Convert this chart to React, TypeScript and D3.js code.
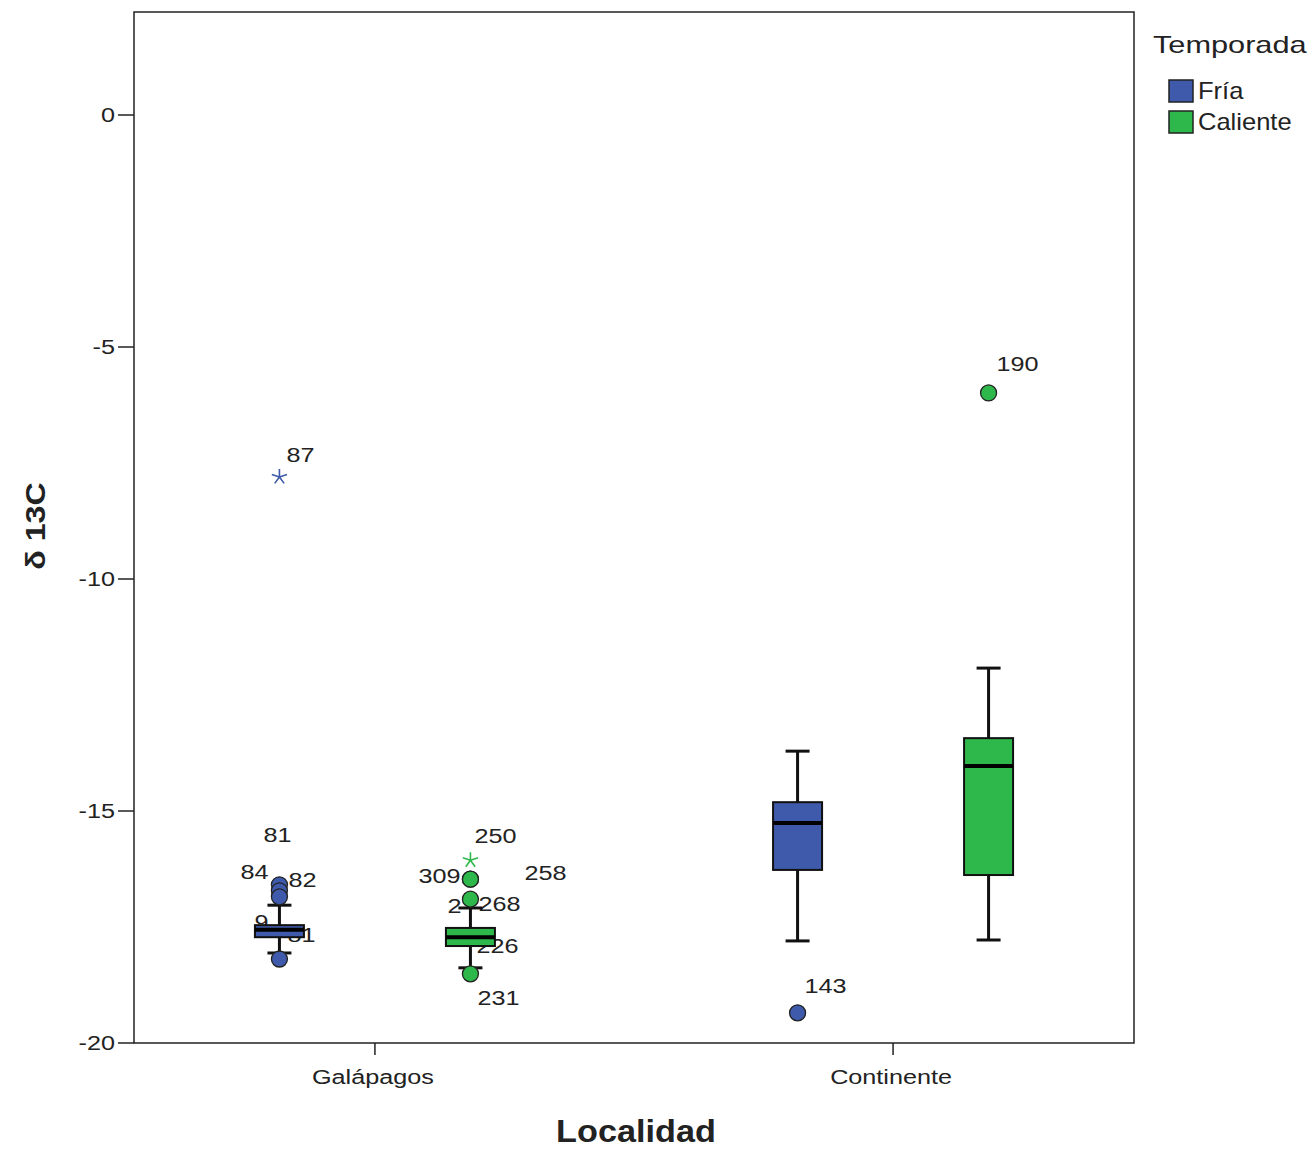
import React from "react";
import * as d3 from "d3";

// ---------- data ----------
const categories = ["Galápagos", "Continente"];
const seasons = ["Fría", "Caliente"];
const seasonColors = ["#3F5AAA", "#2EB84B"];
const yTicks = [0, -5, -10, -15, -20];

// box stats: [whiskerLow, q1, median, q3, whiskerHigh]
const galapagosFria = [-18.06, -17.72, -17.56, -17.46, -17.03];
const galapagosCaliente = [-18.38, -17.91, -17.72, -17.52, -17.09];
const continenteFria = [-17.8, -16.27, -15.26, -14.81, -13.71];
const continenteCaliente = [-17.78, -16.38, -14.03, -13.43, -11.92];

// outliers: [label, value, kind] kind: "o" circle, "*" extreme
const outGalFria: [string, number, string][] = [
  ["81", -16.59, "o"], ["84", -16.72, "o"], ["82", -16.85, "o"],
  ["", -18.19, "o"], ["87", -7.8, "*"],
];
const outGalCal: [string, number, string][] = [
  ["309", -16.47, "o"], ["258", -16.47, "o"], ["268", -16.9, "o"],
  ["231", -18.51, "o"], ["250", -16.06, "*"],
];
const outConFria: [string, number, string][] = [["143", -19.35, "o"]];
const outConCal: [string, number, string][] = [["190", -5.99, "o"]];

// extra partially hidden labels: [text, value]
const hiddenGalFria: [string, number][] = [["9", -17.56], ["81", -17.56]];
const hiddenGalCal: [string, number][] = [["2", -17.09], ["226", -17.72]];

const groups = [
  { cat: 0, s: 0, box: galapagosFria, outs: outGalFria, hidden: hiddenGalFria },
  { cat: 0, s: 1, box: galapagosCaliente, outs: outGalCal, hidden: hiddenGalCal },
  { cat: 1, s: 0, box: continenteFria, outs: outConFria, hidden: [] as [string, number][] },
  { cat: 1, s: 1, box: continenteCaliente, outs: outConCal, hidden: [] as [string, number][] },
];

// ---------- layout ----------
const W = 1315, H = 1150;
const L = 134, R = 1134, T = 12, B = 1043;
const font = "Arial, 'Liberation Sans', sans-serif";
const SX = 1.2; // horizontal stretch of the reference's text
// label offsets (px) relative to the point, keyed by group index + label
const labelOffsets: Record<string, [number, number]> = {
  "0-81": [-2, -50], "0-84": [-25, -19], "0-82": [23, -17], "0-87": [21, -22],
  "0-h9": [-18, -8], "0-h81": [22, 5],
  "1-309": [-31, -4], "1-258": [75, -7], "1-268": [29, 4], "1-231": [28, 24], "1-250": [25, -25],
  "1-h2": [-16, -2], "1-h226": [27, 8],
  "2-143": [28, -27],
  "3-190": [29, -29],
};

function Txt(props: {
  x: number; y: number; size: number; anchor?: string; sx?: number; bold?: boolean;
  dy?: string; children: React.ReactNode; rotate?: number;
}) {
  const { x, y, size, anchor = "start", sx = SX, bold, dy, children, rotate } = props;
  return (
    <text
      transform={`translate(${x},${y})${rotate ? ` rotate(${rotate})` : ""} scale(${sx},1)`}
      textAnchor={anchor}
      fontSize={size}
      fontWeight={bold ? "bold" : "normal"}
      dy={dy}
      fill="#222"
    >
      {children}
    </text>
  );
}

export default function App() {
  const x = d3.scalePoint<string>().domain(categories).range([L, R]).padding(0.465);
  const sub = d3.scalePoint<string>().domain(seasons).range([-95.5, 95.5]);
  const y = d3.scaleLinear().domain([-20, 2.22]).range([B, T]);
  const boxW = 49;
  const capW = 24;

  const starPath = (cx: number, cy: number) => {
    const r = 8;
    let p = "";
    for (let i = 0; i < 5; i++) {
      const a = (Math.PI * 2 * i) / 5 - Math.PI / 2;
      p += `M${cx},${cy}L${cx + r * Math.cos(a)},${cy + r * Math.sin(a)}`;
    }
    return p;
  };

  return (
    <svg width={W} height={H} style={{ display: "block", position: "absolute", left: 0, top: 0 }} fontFamily={font}>
      <rect width={W} height={H} fill="#fff" />
      {/* plot frame */}
      <rect x={L} y={T} width={R - L} height={B - T} fill="none" stroke="#222" strokeWidth={1.5} />
      {/* y ticks */}
      {yTicks.map((t) => (
        <g key={t}>
          <line x1={L - 16} x2={L} y1={y(t)} y2={y(t)} stroke="#222" strokeWidth={1.5} />
          <Txt x={L - 19} y={y(t)} dy="0.35em" anchor="end" size={21}>{t}</Txt>
        </g>
      ))}
      {/* x ticks */}
      {categories.map((c) => (
        <g key={c}>
          <line x1={x(c)!} x2={x(c)!} y1={B} y2={B + 12} stroke="#222" strokeWidth={1.5} />
          <Txt x={x(c)! - 2} y={B + 41} anchor="middle" size={21}>{c}</Txt>
        </g>
      ))}
      {/* axis titles */}
      <Txt x={636} y={1142} anchor="middle" size={32} bold sx={1.07}>Localidad</Txt>
      <Txt x={45} y={526} anchor="middle" size={28} bold rotate={-90} sx={1.15}>δ 13C</Txt>

      {groups.map((g, gi) => {
        const cx = x(categories[g.cat])! + sub(seasons[g.s])!;
        const [wl, q1, md, q3, wh] = g.box;
        const col = seasonColors[g.s];
        return (
          <g key={gi}>
            {/* labels (drawn behind) */}
            {g.hidden.map(([t, v]) => {
              const o = labelOffsets[`${gi}-h${t}`] || [20, 0];
              return (
                <Txt key={"h" + t} x={cx + o[0]} y={y(v) + o[1]} dy="0.35em" anchor="middle" size={21}>{t}</Txt>
              );
            })}
            {g.outs.filter(([id]) => id !== "").map(([id, v]) => {
              const o = labelOffsets[`${gi}-${id}`] || [20, -20];
              return (
                <Txt key={"l" + id} x={cx + o[0]} y={y(v) + o[1]} dy="0.35em" anchor="middle" size={21}>{id}</Txt>
              );
            })}
            {/* whiskers */}
            <line x1={cx} x2={cx} y1={y(wh)} y2={y(q3)} stroke="#111" strokeWidth={3} />
            <line x1={cx} x2={cx} y1={y(q1)} y2={y(wl)} stroke="#111" strokeWidth={3} />
            <line x1={cx - capW / 2} x2={cx + capW / 2} y1={y(wh)} y2={y(wh)} stroke="#111" strokeWidth={3} />
            <line x1={cx - capW / 2} x2={cx + capW / 2} y1={y(wl)} y2={y(wl)} stroke="#111" strokeWidth={3} />
            {/* box */}
            <rect x={cx - boxW / 2} y={y(q3)} width={boxW} height={y(q1) - y(q3)} fill={col} stroke="#111" strokeWidth={2} />
            <line x1={cx - boxW / 2} x2={cx + boxW / 2} y1={y(md)} y2={y(md)} stroke="#000" strokeWidth={4} />
            {/* outliers */}
            {g.outs.map(([id, v, k], i) =>
              k === "*" ? (
                <path key={"p" + i} d={starPath(cx, y(v))} stroke={col} strokeWidth={1.6} fill="none" />
              ) : (
                <circle key={"p" + i} cx={cx} cy={y(v)} r={8} fill={col} stroke="#222" strokeWidth={1.3} />
              )
            )}
          </g>
        );
      })}

      {/* legend */}
      <Txt x={1153} y={53} size={24} sx={1.28}>Temporada</Txt>
      {seasons.map((s, i) => (
        <g key={s}>
          <rect x={1169} y={80 + i * 31} width={24} height={22} fill={seasonColors[i]} stroke="#222" strokeWidth={1.5} />
          <Txt x={1198} y={91 + i * 31} dy="0.35em" size={23} sx={1.11}>{s}</Txt>
        </g>
      ))}
    </svg>
  );
}
